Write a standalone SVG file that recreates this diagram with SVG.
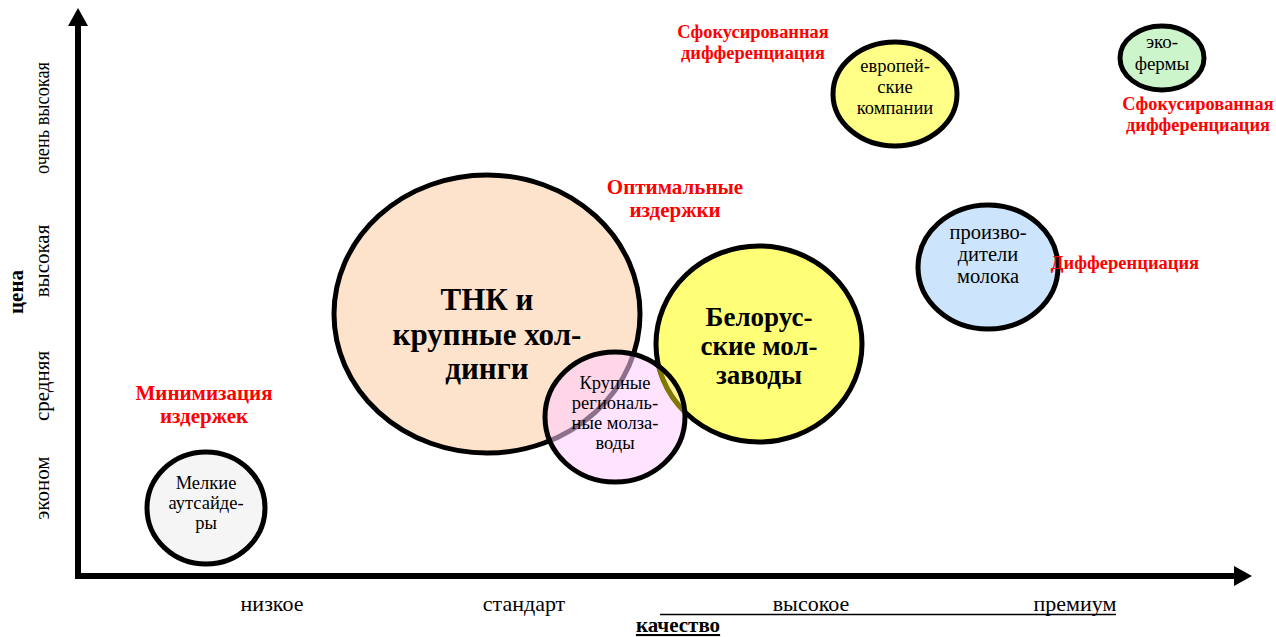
<svg xmlns="http://www.w3.org/2000/svg" width="1276" height="637" viewBox="0 0 1276 637">
<style>
  .bub { stroke: #000; stroke-width: 5; }
  .t { font-family: "Liberation Serif", "Times New Roman", serif; fill: #000; text-anchor: middle; }
  .r { font-family: "Liberation Serif", "Times New Roman", serif; fill: #ff0000; font-weight: bold; text-anchor: middle; }
  .ax { font-family: "Liberation Serif", "Times New Roman", serif; fill: #000; font-size: 21px; text-anchor: middle; }
  .axx { font-family: "Liberation Serif", "Times New Roman", serif; fill: #000; font-size: 22px; text-anchor: middle; }
</style>
<defs>
  <clipPath id="clipKr"><ellipse cx="615" cy="417" rx="69" ry="64"/></clipPath>
</defs>
<rect width="1276" height="637" fill="#fff"/>

<g id="connectors">
  <line x1="78" y1="578" x2="78" y2="24" stroke="#000" stroke-width="6"/>
  <polygon points="68,26 78,8 88,26" fill="#000"/>
  <line x1="75" y1="576" x2="1236" y2="576" stroke="#000" stroke-width="6"/>
  <polygon points="1234,566 1252,576 1234,586" fill="#000"/>
</g>

<g id="axis-labels">
  <text class="ax" transform="translate(49,488) rotate(-90)">эконом</text>
  <text class="ax" transform="translate(49,386) rotate(-90)">средняя</text>
  <text class="ax" transform="translate(49,261) rotate(-90)">высокая</text>
  <text class="ax" transform="translate(49,118) rotate(-90)" textLength="112" lengthAdjust="spacingAndGlyphs">очень высокая</text>
  <text class="ax" font-weight="bold" transform="translate(23,292) rotate(-90)">цена</text>
  <text class="axx" x="272" y="611">низкое</text>
  <text class="axx" x="524" y="611">стандарт</text>
  <text class="axx" x="811" y="611">высокое</text>
  <text class="axx" x="1075" y="611">премиум</text>
  <line x1="660" y1="614.5" x2="1116" y2="614.5" stroke="#000" stroke-width="1.3"/>
  <text class="ax" x="678" y="632" font-weight="bold" text-decoration="underline">качество</text>
</g>

<g id="node-tnk">
  <ellipse class="bub" cx="487" cy="314" rx="153" ry="139" fill="#fde3cb"/>
  <text class="t" font-size="31" font-weight="bold"><tspan x="487" y="310">ТНК и</tspan><tspan x="487" y="345">крупные хол-</tspan><tspan x="487" y="379">динги</tspan></text>
</g>

<g id="node-bel">
  <ellipse class="bub" cx="759" cy="344" rx="103" ry="98" fill="#ffff77"/>
  <text class="t" font-size="27" font-weight="bold"><tspan x="759" y="326">Белорус-</tspan><tspan x="759" y="355">ские мол-</tspan><tspan x="759" y="384">заводы</tspan></text>
</g>

<g id="node-krup">
  <ellipse cx="615" cy="417" rx="70" ry="65" fill="#ffccff" fill-opacity="0.55"/>
  <g clip-path="url(#clipKr)">
    <ellipse cx="759" cy="344" rx="103" ry="98" fill="#ffff77" fill-opacity="0.5" stroke="#807800" stroke-width="5"/>
  </g>
  <ellipse class="bub" cx="615" cy="417" rx="70" ry="65" fill="none"/>
  <text class="t" font-size="18.5"><tspan x="615" y="389">Крупные</tspan><tspan x="615" y="409">региональ-</tspan><tspan x="615" y="429">ные молза-</tspan><tspan x="615" y="449">воды</tspan></text>
</g>

<g id="node-melk">
  <ellipse class="bub" cx="206" cy="508" rx="59" ry="56" fill="#f5f5f5"/>
  <text class="t" font-size="18.5"><tspan x="206" y="489">Мелкие</tspan><tspan x="206" y="509">аутсайде-</tspan><tspan x="206" y="529">ры</tspan></text>
</g>

<g id="node-evro">
  <ellipse class="bub" cx="895" cy="94" rx="62" ry="52" fill="#ffff88"/>
  <text class="t" font-size="18.5"><tspan x="895" y="72">европей-</tspan><tspan x="895" y="93">ские</tspan><tspan x="895" y="114">компании</tspan></text>
</g>

<g id="node-proizv">
  <ellipse class="bub" cx="988" cy="267" rx="70" ry="62" fill="#cce4fc"/>
  <text class="t" font-size="20.5"><tspan x="988" y="239">произво-</tspan><tspan x="988" y="261">дители</tspan><tspan x="988" y="283">молока</tspan></text>
</g>

<g id="node-eko">
  <ellipse class="bub" cx="1162" cy="58" rx="42" ry="32" fill="#ccf5cc"/>
  <text class="t" font-size="19"><tspan x="1162" y="48">эко-</tspan><tspan x="1162" y="70">фермы</tspan></text>
</g>

<g id="strategy-labels">
  <text class="r" font-size="18.4"><tspan x="753" y="38">Сфокусированная</tspan><tspan x="753" y="59">дифференциация</tspan></text>
  <text class="r" font-size="18.4"><tspan x="1198" y="110">Сфокусированная</tspan><tspan x="1198" y="131">дифференциация</tspan></text>
  <text class="r" font-size="21"><tspan x="675" y="194">Оптимальные</tspan><tspan x="675" y="217">издержки</tspan></text>
  <text class="r" font-size="21"><tspan x="204" y="400">Минимизация</tspan><tspan x="204" y="423">издержек</tspan></text>
  <text class="r" font-size="18.5" x="1125" y="269">Дифференциация</text>
</g>
</svg>
